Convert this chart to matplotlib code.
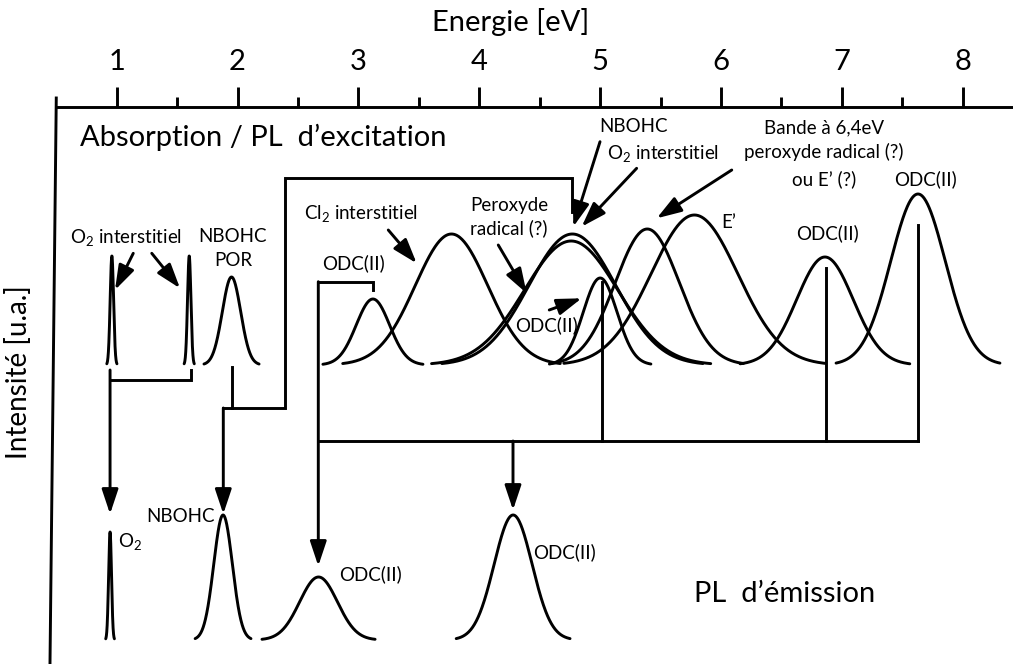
import numpy as np
import matplotlib
matplotlib.use("Agg")
import matplotlib.pyplot as plt

plt.rcParams['font.family'] = ['Lato', 'DejaVu Sans']
plt.rcParams['mathtext.fontset'] = 'custom'
plt.rcParams['mathtext.rm'] = 'Lato'
plt.rcParams['mathtext.it'] = 'Lato:italic'

# absorption / PL excitation bands : centre [eV], height [u.a.], sigma [eV]
exc_centres = [0.96, 1.60, 1.95, 3.12, 3.77, 4.77, 4.76, 5.00, 5.39, 5.78, 6.86, 7.63]
exc_heights = [109, 109, 88, 66, 131, 131, 124, 87, 136, 150, 108, 171]
exc_sigmas = [0.014, 0.014, 0.076, 0.138, 0.30, 0.36, 0.385, 0.14, 0.265, 0.36, 0.234, 0.226]
exc_base = 299

# PL emission bands
em_centres = [0.945, 1.88, 2.67, 4.28]
em_heights = [108, 125, 63, 125]
em_sigmas = [0.012, 0.077, 0.156, 0.157]
em_base = 24

energy_ticks = [1, 2, 3, 4, 5, 6, 7, 8]
minor_ticks = [1.5, 2.5, 3.5, 4.5, 5.5, 6.5, 7.5]

LW = 2.1

fig = plt.figure(figsize=(10.13, 6.64), dpi=100)
ax = fig.add_axes([0, 0, 1, 1])
ax.set_xlim(0.0344, 8.416)
ax.set_ylim(0, 664)
ax.axis('off')


def band(x0, h, s, base):
    e = np.linspace(x0 - 3 * s, x0 + 3 * s, 300)
    ax.plot(e, base + h * np.exp(-0.5 * ((e - x0) / s) ** 2), color='k', lw=LW,
            solid_capstyle='round')


def arrow(x0, y0, x1, y1):
    ax.annotate('', xy=(x1, y1), xytext=(x0, y0),
                arrowprops=dict(arrowstyle='-|>,head_length=1.5,head_width=0.5',
                                mutation_scale=10, lw=LW, color='k',
                                shrinkA=0, shrinkB=0))


def path(xs, ys):
    ax.plot(xs, ys, color='k', lw=LW, solid_joinstyle='miter')


for c, h, s in zip(exc_centres, exc_heights, exc_sigmas):
    band(c, h, s, exc_base)
for c, h, s in zip(em_centres, em_heights, em_sigmas):
    band(c, h, s, em_base)

# energy axis on top
axis_y = 556.7
ax.plot([0.5, 8.416], [axis_y, axis_y], color='k', lw=LW)
ax.vlines(energy_ticks, axis_y, axis_y + 20, color='k', lw=LW)
ax.vlines(minor_ticks, axis_y, axis_y + 10, color='k', lw=LW)
for t in energy_ticks:
    ax.text(t, 602, str(t), ha='center', va='center', fontsize=21)
ax.text(4.26, 642, 'Energie [eV]', ha='center', va='center', fontsize=21)

# intensity axis
ax.plot([0.5, 0.448], [566, 0], color='k', lw=LW)
ax.text(0.19, 292, 'Intensité [u.a.]', ha='center', va='center', fontsize=20,
        rotation=90)

ax.text(2.211, 527, 'Absorption / PL  d\u2019excitation', ha='center', va='center',
        fontsize=21)
ax.text(6.53, 70, 'PL  d\u2019émission', ha='center', va='center', fontsize=21)

# transitions excitation -> emission
path([1.612, 1.612, 0.945], [294, 284, 284])
arrow(0.945, 294, 0.945, 150)

path([1.952, 1.952], [297, 256])
path([1.882, 2.393, 2.393, 4.767, 4.767], [256, 256, 486.5, 486.5, 452])
arrow(1.882, 256, 1.882, 150)

path([3.118, 3.118, 2.668], [374, 382.3, 382.3])
arrow(2.668, 382.3, 2.668, 98)
path([2.668, 7.632], [223, 223])
path([5.013, 5.013], [223, 382.3])
path([6.866, 6.866], [223, 396])
path([7.632, 7.632], [223, 439])
arrow(4.279, 223, 4.279, 154)

# pointers to the bands
arrow(1.137, 410.7, 0.986, 374)
arrow(1.290, 410.7, 1.524, 375.7)
arrow(3.247, 434, 3.482, 400.7)
arrow(4.157, 419, 4.392, 370.7)
arrow(4.579, 354, 4.847, 365.7)
arrow(4.999, 522.3, 4.778, 437.3)
arrow(5.302, 495.7, 4.847, 437.3)
arrow(6.089, 494, 5.468, 445.7)

fs = 13.5
labels = [
    (1.081, 427, r'O$_2$ interstitiel'),
    (1.962, 427, 'NBOHC'),
    (1.962, 404, 'POR'),
    (3.021, 451, r'Cl$_2$ interstitiel'),
    (2.963, 401, 'ODC(II)'),
    (4.246, 459, 'Peroxyde'),
    (4.246, 435.7, 'radical (?)'),
    (4.558, 339, 'ODC(II)'),
    (5.272, 537, 'NBOHC'),
    (5.520, 511, r'O$_2$ interstitiel'),
    (6.853, 536, 'Bande à 6,4eV'),
    (6.853, 512, 'peroxyde radical (?)'),
    (6.853, 485, 'ou E\u2019 (?)'),
    (7.689, 485, 'ODC(II)'),
    (6.061, 442, 'E\u2019'),
    (6.885, 431, 'ODC(II)'),
    (1.532, 148, 'NBOHC'),
    (3.096, 90, 'ODC(II)'),
    (4.709, 112, 'ODC(II)'),
]
for x, y, s in labels:
    ax.text(x, y, s, ha='center', va='center', fontsize=fs)
ax.text(1.013, 122, r'O$_2$', ha='left', va='center', fontsize=fs)

fig.savefig('out.png', dpi=100)
